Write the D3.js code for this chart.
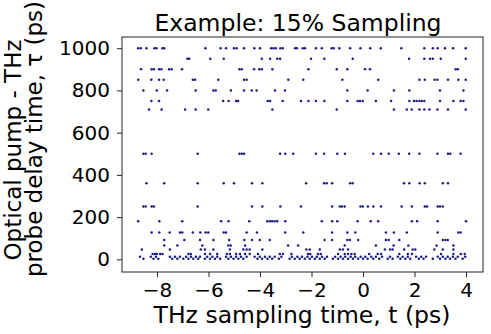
<html>
<head>
<meta charset="UTF-8">
<script src="https://cdn.jsdelivr.net/npm/d3@7/dist/d3.min.js"></script>
<style>
  body { margin: 0; background: #fff; }
  text { font-family: "DejaVu Sans", sans-serif; fill: #000; }
</style>
</head>
<body>
<script>
// sampled t positions (ps) for each pump-probe delay tau (ps)
var t1000 = [-8.73,-8.63,-8.41,-8.10,-8.02,-7.79,-7.72,-6.12,-5.53,-5.32,-5.01,-4.91,-4.62,-4.22,-4.00,-3.57,-3.48,-3.39,-3.21,-3.12,-2.64,-2.57,-2.34,-2.25,-1.83,-1.60,-1.22,-1.14,-0.92,-0.50,-0.10,0.28,0.69,1.49,2.38,2.71,2.90,3.18,3.50,3.99];
var t950 = [-6.82,-6.75,-5.93,-5.41,-3.93,-3.61,-3.33,-3.22,-2.02,-1.50,-0.40,1.79,2.38,2.60,2.71,3.02,3.99];
var t900 = [-8.62,-8.21,-8.12,-7.92,-7.83,-7.53,-7.43,-7.03,-4.80,-4.71,-4.23,-4.03,-3.93,-3.52,-2.12,-1.02,-0.61,0.08,0.27,3.60,3.68];
var t850 = [-8.73,-8.22,-7.92,-7.74,-6.61,-6.52,-5.62,-4.62,-4.52,-2.90,-2.32,-0.80,0.59,2.19,2.40,2.78,2.89,3.30,3.70,3.99];
var t800 = [-8.53,-8.01,-7.61,-6.50,-5.81,-5.72,-5.13,-4.62,-4.32,-4.13,-3.42,-3.03,-0.61,0.18,1.20,1.80,2.99,3.90];
var t750 = [-8.22,-7.92,-5.43,-5.22,-4.93,-4.85,-3.70,-3.61,-3.12,-2.41,-2.12,-1.83,-1.50,-0.61,-0.21,-0.12,-0.01,0.50,1.09,1.80,1.98,2.08,2.19,2.28,2.38,2.99,3.51,3.79,3.90];
var t710 = [-8.31,-7.82,-6.91,-6.50,-6.01,-3.52,-1.02,1.20,1.70,1.89,2.19,2.38,2.58,2.89,3.30,3.99];
var t500 = [-8.53,-8.44,-8.21,-6.42,-4.80,-4.71,-4.62,-3.22,-3.02,-2.71,-1.83,-1.51,-1.00,-0.70,0.40,0.70,1.00,1.39,1.79,2.19,2.89,3.30,3.39,3.79];
var t360 = [-8.41,-7.72,-6.42,-5.41,-5.01,-4.31,-3.91,-2.21,-1.51,-1.41,-1.20,-0.50,-0.40,1.59,1.80,2.20,2.40,3.10,3.30];
var t250 = [-8.53,-8.44,-8.21,-8.12,-6.42,-4.31,-3.91,-3.21,-2.41,-1.20,-0.90,-0.82,-0.71,-0.10,-0.01,0.19,0.40,0.70,1.50,1.90,2.40,2.49,2.90,2.99,3.10];
var t180 = [-8.73,-7.91,-7.02,-5.51,-5.22,-4.42,-3.72,-3.62,-3.53,-3.43,-3.33,-3.02,-1.60,-1.20,-1.00,-0.21,0.30,0.59,1.90,2.10,2.90,4.00];
var t127 = [-8.21,-7.91,-7.51,-7.11,-7.02,-6.61,-6.32,-6.11,-6.01,-5.41,-5.32,-4.52,-4.12,-3.02,-2.32,-1.20,-0.61,-0.30,0.89,1.20,1.70,2.90,3.70,3.79];
var t92 = [-7.72,-6.94,-6.33,-5.81,-5.20,-4.61,-4.31,-4.01,-3.62,-1.49,-1.20,-0.61,-0.51,-0.19,0.89,1.00,1.41,3.10,3.20,3.29];
var t66 = [-7.72,-7.21,-6.24,-5.23,-5.14,-4.58,-2.91,-2.52,-0.71,0.50,1.19,1.76,2.86,3.51];
var t47 = [-8.59,-7.50,-6.30,-6.14,-5.81,-5.17,-4.65,-4.52,-4.40,-3.91,-2.20,-2.07,-1.68,-0.90,-0.78,-0.58,0.85,1.05,1.15,1.60,1.93,2.03,2.77,3.10,3.51];
var t25 = [-8.17,-8.08,-8.01,-7.88,-7.79,-6.78,-6.69,-6.14,-5.94,-5.66,-5.29,-5.17,-4.93,-4.78,-4.58,-4.40,-4.08,-3.23,-3.11,-2.78,-2.14,-2.05,-1.75,-1.64,-0.97,-0.71,-0.58,-0.45,-0.32,0.24,0.57,0.70,1.41,1.74,1.90,3.03,3.51,3.80,3.95];
var t12 = [-8.66,-8.24,-8.04,-7.50,-7.30,-7.11,-6.87,-6.68,-6.49,-6.33,-6.05,-5.85,-5.66,-5.32,-5.13,-4.93,-4.74,-4.52,-4.21,-4.01,-3.81,-3.62,-3.43,-3.17,-2.76,-2.55,-2.37,-2.16,-1.98,-1.79,-1.59,-1.40,-1.08,-0.87,-0.69,-0.48,-0.30,-0.09,0.09,0.32,0.50,0.74,1.05,1.35,1.54,1.74,2.06,2.26,2.45,2.90,3.10,3.29,3.49,3.68,3.97];
var t3 = [-8.53,-8.14,-7.95,-7.41,-7.21,-6.98,-6.78,-6.59,-6.40,-6.14,-5.94,-5.75,-5.55,-5.23,-5.03,-4.84,-4.65,-4.10,-3.92,-3.71,-3.53,-3.27,-2.85,-2.65,-2.46,-2.26,-2.07,-1.87,-1.68,-1.49,-1.17,-0.97,-0.78,-0.58,-0.39,-0.19,0.00,0.18,0.40,0.63,0.96,1.15,1.45,1.64,1.83,2.17,2.35,2.71,2.99,3.20,3.38,3.59,3.87];

var tauLevels = [1000, 950, 900, 850, 800, 750, 710, 500, 360, 250, 180, 127, 92, 66, 47, 25, 12, 3];
var tLists = [t1000, t950, t900, t850, t800, t750, t710, t500, t360, t250, t180, t127, t92, t66, t47, t25, t12, t3];

var xTicks = [-8, -6, -4, -2, 0, 2, 4];
var yTicks = [0, 200, 400, 600, 800, 1000];

var width = 491, height = 334;
var margin = {left: 122, right: 8, top: 37, bottom: 62};

var svg = d3.select('body').append('svg')
    .attr('width', width)
    .attr('height', height);

var x = d3.scaleLinear().domain([-9.36, 4.66]).range([margin.left, width - margin.right]);
var y = d3.scaleLinear().domain([-60, 1053]).range([height - margin.bottom, margin.top]);

// flatten into points
var points = [];
tLists.forEach(function(list, i) {
  list.forEach(function(t) { points.push({t: t, tau: tauLevels[i]}); });
});

svg.append('g').selectAll('circle')
    .data(points)
    .enter()
    .append('circle')
    .attr('cx', function(d) { return x(d.t); })
    .attr('cy', function(d) { return y(d.tau); })
    .attr('r', 1.25)
    .style('fill', '#1c1c86');

function minus(d) { return d < 0 ? '\u2212' + Math.abs(d) : String(d); }

var xAxis = svg.append('g')
    .attr('transform', 'translate(0,' + (height - margin.bottom) + ')')
    .call(d3.axisBottom(x).tickValues(xTicks).tickFormat(minus).tickSize(5).tickPadding(6));
var yAxis = svg.append('g')
    .attr('transform', 'translate(' + margin.left + ',0)')
    .call(d3.axisLeft(y).tickValues(yTicks).tickFormat(d3.format('d')).tickSize(5).tickPadding(7));

[xAxis, yAxis].forEach(function(g) {
  g.select('.domain').remove();
  g.selectAll('line').style('stroke', '#222').style('stroke-width', 1);
  g.selectAll('text').style('font-size', '20px').style('font-family', '"DejaVu Sans", sans-serif').style('fill', '#000');
});

// frame
svg.append('rect')
    .attr('x', margin.left)
    .attr('y', margin.top)
    .attr('width', width - margin.left - margin.right)
    .attr('height', height - margin.top - margin.bottom)
    .style('fill', 'none')
    .style('stroke', '#222')
    .style('stroke-width', 1);

svg.append('text')
    .attr('x', 298)
    .attr('y', 31)
    .attr('text-anchor', 'middle')
    .style('font-size', '23.5px')
    .text('Example: 15% Sampling');

svg.append('text')
    .attr('x', 302)
    .attr('y', 323)
    .attr('text-anchor', 'middle')
    .style('font-size', '23.5px')
    .text('THz sampling time, t (ps)');

// two-line y label
svg.append('text')
    .attr('transform', 'translate(21,150) rotate(-90)')
    .attr('text-anchor', 'middle')
    .style('font-size', '23px')
    .text('Optical pump - THz');
svg.append('text')
    .attr('transform', 'translate(42,139) rotate(-90)')
    .attr('text-anchor', 'middle')
    .style('font-size', '23px')
    .text('probe delay time, \u03c4 (ps)');
</script>
</body>
</html>
